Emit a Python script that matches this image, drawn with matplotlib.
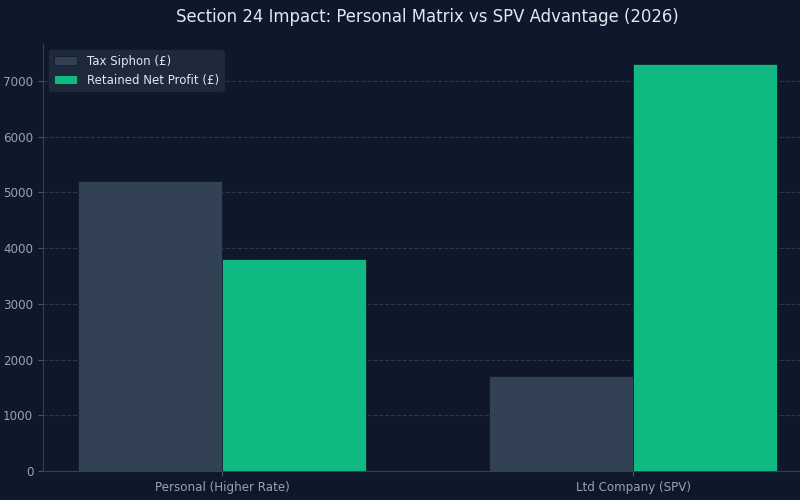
import numpy as np
import matplotlib
matplotlib.use('Agg')
import matplotlib.pyplot as plt

categories = ['Personal (Higher Rate)', 'Ltd Company (SPV)']
tax_siphon = [5200, 1700]
retained = [3800, 7300]

bg = '#0f172a'
fig = plt.figure(figsize=(8, 5), dpi=100, facecolor=bg)
ax = fig.add_axes([43/800, 29/500, 769/800, 427/500])
ax.set_facecolor(bg)

x = np.arange(len(categories))
w = 0.35
ax.bar(x - w/2, tax_siphon, w, color='#334155', edgecolor=bg, linewidth=0.5,
       label='Tax Siphon (£)', zorder=3)
ax.bar(x + w/2, retained, w, color='#10b981', edgecolor=bg, linewidth=0.5,
       label='Retained Net Profit (£)', zorder=3)

ax.set_xticks(x)
ax.set_xticklabels(categories)
ax.tick_params(colors='#94a3b8', labelsize=8.6)
ax.tick_params(axis='both', color='#475569')
ax.yaxis.grid(True, linestyle='--', color='#334155', alpha=0.8, zorder=0)
for s in ['top', 'right']:
    ax.spines[s].set_visible(False)
for s in ['left', 'bottom']:
    ax.spines[s].set_color('#334155')

ax.set_title('Section 24 Impact: Personal Matrix vs SPV Advantage (2026)',
             color='#e2e8f0', fontsize=11.9, pad=16)
leg = ax.legend(loc='upper left', facecolor='#1e293b', edgecolor='#1e293b',
                framealpha=1, fontsize=8.5)
for t in leg.get_texts():
    t.set_color('#e2e8f0')

fig.savefig('out.png', dpi=100, facecolor=bg)
